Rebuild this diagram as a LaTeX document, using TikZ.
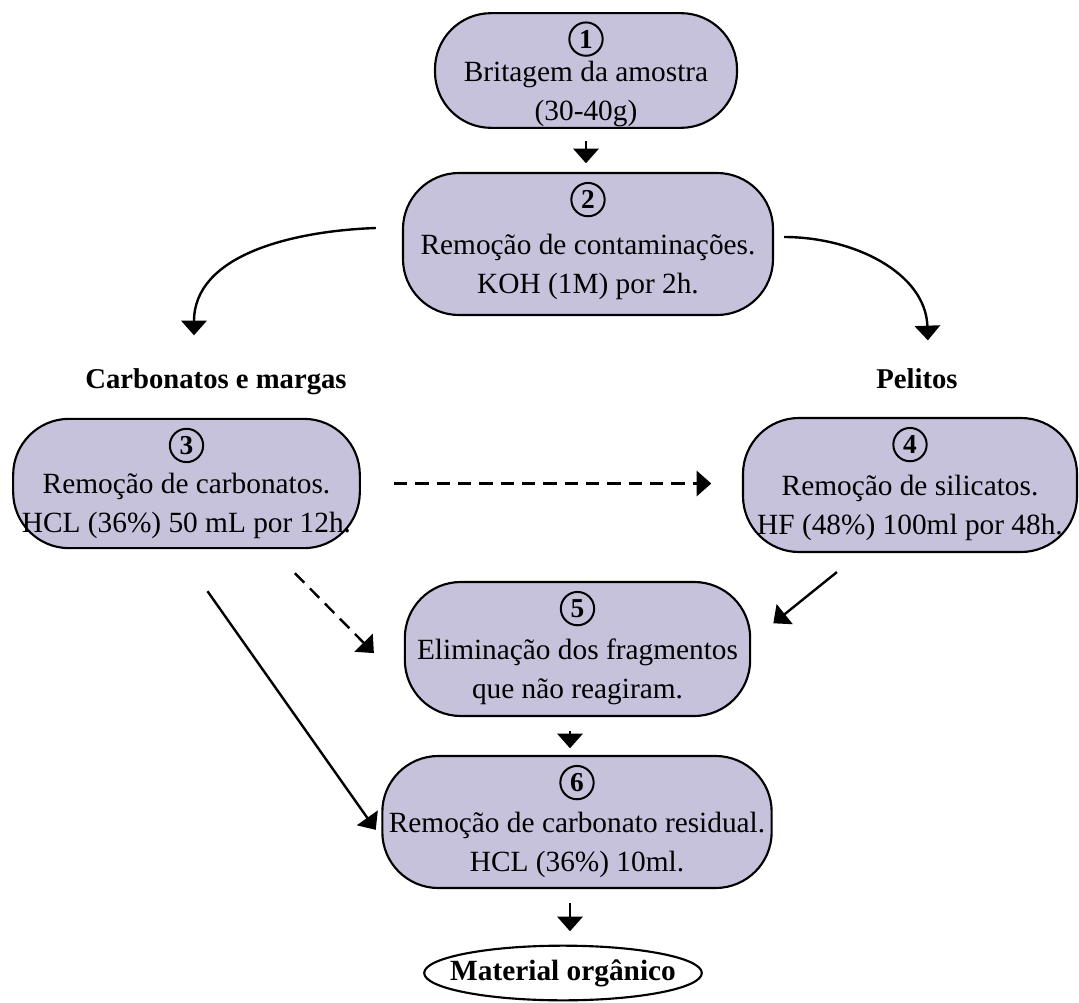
\documentclass[tikz,border=0pt]{standalone}
\usepackage{fontspec}
\setmainfont{Liberation Serif}
\usetikzlibrary{arrows.meta, positioning, shapes.geometric}
\definecolor{my_lavender}{HTML}{C6C2DC}

\begin{document}
\begin{tikzpicture}[
    x=0.75pt, y=-0.75pt,
    stepbox/.style={draw=black, fill=my_lavender, line width=1.6pt,
        rounded corners=42pt, align=center, inner xsep=1pt, inner ysep=0pt,
        font=\fontsize{22}{29}\selectfont},
    stepnum/.style={draw=black, circle, line width=1.5pt, inner sep=0pt,
        minimum size=25pt, font=\fontsize{20.5}{20.5}\selectfont\bfseries},
    branch/.style={anchor=base, font=\fontsize{21.5}{21.5}\selectfont\bfseries},
    flow/.style={line width=1.8pt,
        -{Triangle[width=19pt, length=11pt, sep=2pt]}},
    dashflow/.style={flow, dash pattern=on 10pt off 6pt}
]
\useasboundingbox (0,0) rectangle (1079,1003);

% -------- Steps (rounded boxes) ------------------------------
\node[stepbox, minimum width=226.5pt, minimum height=86pt] (b1) at (586,70.5)
    {\strut\\[1pt]Britagem da amostra\\(30-40g)};
\node[stepbox, minimum width=277.5pt, minimum height=106.5pt] (b2) at (588,244)
    {\strut\\Remoção de contaminações.\\KOH (1M) por 2h.};
\node[stepbox, minimum width=260pt, minimum height=97pt] (b3) at (186.5,483.5)
    {\strut\\Remoção de carbonatos.\\HCL (36\%) 50 mL por 12h.};
\node[stepbox, minimum width=250.5pt, minimum height=100.5pt] (b4) at (910,485)
    {\strut\\Remoção de silicatos.\\HF (48\%) 100ml por 48h.};
\node[stepbox, minimum width=259pt, minimum height=100.5pt] (b5) at (577.5,649)
    {\strut\\Eliminação dos fragmentos\\que não reagiram.};
\node[stepbox, minimum width=292pt, minimum height=99pt] (b6) at (577,822)
    {\strut\\Remoção de carbonato residual.\\HCL (36\%) 10ml.};

% Step numbers (circled, near the top of each box)
\node[stepnum, below=7pt of b1.north] (n1) {1};
\node[stepnum, below=7.5pt of b2.north] (n2) {2};
\node[stepnum, below=7.5pt of b3.north] (n3) {3};
\node[stepnum, below=7.5pt of b4.north] (n4) {4};
\node[stepnum, below=7.5pt of b5.north] (n5) {5};
\node[stepnum, below=7.5pt of b6.north] (n6) {6};

% -------- Result ---------------------------------------------
\node[draw=black, ellipse, line width=1.6pt, inner xsep=-11pt, inner ysep=0pt,
      minimum width=202.5pt, minimum height=41pt,
      font=\fontsize{22}{22}\selectfont\bfseries] (mo) at (563,973)
    {Material orgânico};

% -------- Branch labels --------------------------------------
\node[branch] (cm) at (216,388) {Carbonatos e margas};
\node[branch] (pel) at (917,388) {Pelitos};
\coordinate (cmtip) at ([shift={(-22,-50)}]cm.base);
\coordinate (peltip) at ([shift={(11,-45)}]pel.base);

% -------- Connectors -----------------------------------------
\coordinate (axis) at (570,0);
\draw[flow, shorten <=9pt, shorten >=4.5pt] (b1.south) -- (b1.south |- b2.north);
\draw[flow] ([shift={(-26,-16)}]b2.west) to[out=182, in=90] (cmtip);
\draw[flow] ([shift={(10,-7)}]b2.east) to[out=0, in=92] (peltip);
% carbonates -> silicates (dashed, optional)
\draw[dashflow, shorten <=24.75pt, shorten >=21pt] (b3.east) -- (b3.east -| b4.west);
\draw[dashflow] ([shift={(-66,24)}]b3.south east) -- ([shift={(-28,6)}]b5.west);
\draw[flow] ([shift={(21,42)}]b3.south) -- ([shift={(-4,10)}]b6.west);
\draw[flow] ([shift={(95,19)}]b4.south west) -- ([shift={(20,-24)}]b5.east);
\draw[flow, shorten <=10.5pt, shorten >=3pt] (axis |- b5.south) -- (axis |- b6.north);
\draw[flow, shorten <=10.5pt, shorten >=8pt] (axis |- b6.south) -- (axis |- mo.north);

\end{tikzpicture}
\end{document}
